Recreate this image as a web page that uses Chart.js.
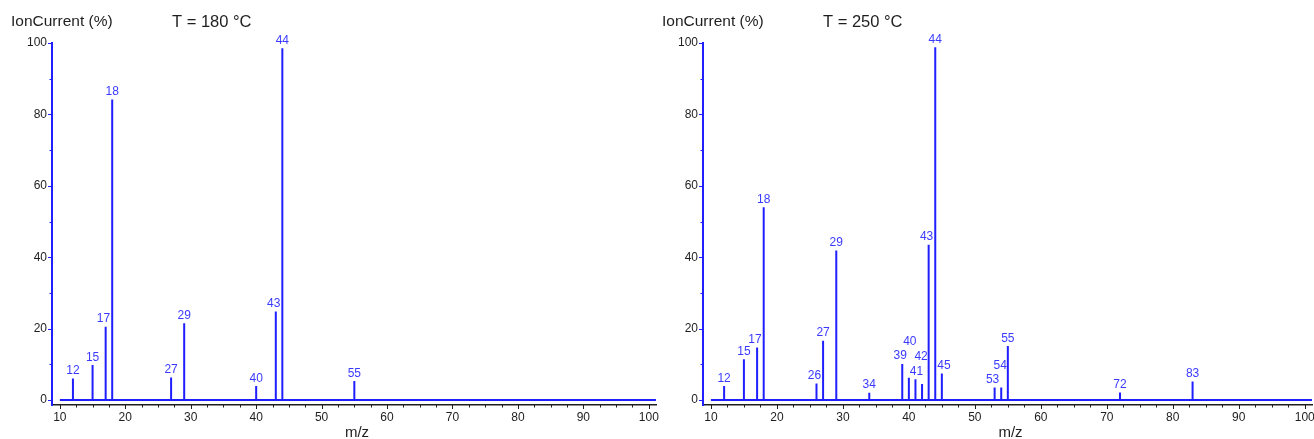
<!DOCTYPE html>
<html>
<head>
<meta charset="utf-8">
<script src="https://cdn.jsdelivr.net/npm/chart.js@4"></script>
<style>
  html, body { margin: 0; padding: 0; background: #fff; }
  #wrap { position: relative; width: 1314px; height: 439px; overflow: hidden; }
  .panel { position: absolute; top: 0; height: 439px; }
</style>
</head>
<body>
<div id="wrap">
  <div class="panel" style="left:0;width:664px"><canvas id="c180"></canvas></div>
  <div class="panel" style="left:651px;width:663px"><canvas id="c250"></canvas></div>
</div>
<script>
// Mass spectra at two temperatures

const mz180 = [12, 15, 17, 18, 27, 29, 40, 43, 44, 55];
const int180 = [6.0, 9.8, 20.5, 84.2, 6.3, 21.5, 3.9, 24.8, 98.5, 5.3];

const mz250 = [12, 15, 17, 18, 26, 27, 29, 34, 39, 40, 41, 42, 43, 44, 45, 53, 54, 55, 72, 83];
const int250 = [3.9, 11.4, 14.7, 54.0, 4.6, 16.6, 41.9, 2.0, 10.1, 6.2, 5.8, 4.5, 43.5, 98.8, 7.4, 3.5, 3.5, 15.1, 2.1, 5.2];

const xTicks = [10, 20, 30, 40, 50, 60, 70, 80, 90, 100];
const yTicks = [0, 20, 40, 60, 80, 100];

const X_MIN = 8.8, X_MAX = 101.1, SPEC_START = 10;
const Y_MIN = -1.4, Y_MAX = 100;
const X_MINOR = 2.5, Y_MINOR = 10;

const BLUE = '#1f1fff';
const LABEL_BLUE = '#3a3aff';
const INK = '#1e1e1e';
const FONT = '"Liberation Sans", Arial, sans-serif';

// stick spectrum as one line: baseline, up to each peak and back down
function stickPoints(mz, inten) {
    let pts = [{ x: SPEC_START, y: 0 }];
    mz.forEach((m, i) => {
        pts.push({ x: m, y: 0 }, { x: m, y: inten[i] }, { x: m, y: 0 });
    });
    pts.push({ x: X_MAX, y: 0 });
    return pts;
}

// put peak labels above the sticks, nudge them off neighbouring sticks and stack when they collide
function drawPeakLabels(ctx, xs, tops, texts, vals) {
    const order = vals.map((v, i) => i).sort((a, b) => vals[b] - vals[a] || xs[a] - xs[b]);
    const placed = [];
    order.forEach(i => {
        const w = ctx.measureText(texts[i]).width;
        let cx = xs[i];
        let base = tops[i] - 4.5;
        const bottom = base + 3;
        let left = null, right = null;
        xs.forEach((nx, j) => {
            if (j === i) return;
            if (Math.abs(nx - cx) > w / 2 + 1) return;
            if (tops[j] > bottom + 20) return;
            if (nx >= cx) { if (right === null || tops[j] < tops[right]) right = j; }
            else { if (left === null || tops[j] < tops[left]) left = j; }
        });
        if (right !== null && left === null) cx = Math.min(cx, xs[right] - 2 - w / 2);
        else if (left !== null && right === null) cx = Math.max(cx, xs[left] + 2 + w / 2);
        else if (left !== null && right !== null) cx += tops[left] < tops[right] ? 1 : -1;

        // ink box is a bit narrower than the advance width
        const hw = w / 2 - 1.6;
        let moved = true;
        while (moved) {
            moved = false;
            placed.forEach(p => {
                if (cx - hw < p.x1 && cx + hw > p.x0 && base - 11.5 < p.y1 && base + 3 > p.y0) {
                    base = p.y0 - 3;
                    moved = true;
                }
            });
        }
        placed.push({ x0: cx - hw, x1: cx + hw, y0: base - 11.5, y1: base + 3 });
        ctx.fillText(texts[i], cx, base);
    });
}

const decorPlugin = {
    id: 'decor',
    afterDraw(chart) {
        const ctx = chart.ctx;
        const area = chart.chartArea;
        const xs = chart.scales.x, ys = chart.scales.y;
        const opts = chart.options.plugins.decor;
        ctx.save();

        // x axis tick marks
        ctx.strokeStyle = INK;
        ctx.lineWidth = 1;
        for (let v = xTicks[0]; v <= xTicks[xTicks.length - 1] + 0.01; v += X_MINOR) {
            const px = Math.round(xs.getPixelForValue(v)) + 0.5;
            const len = (v % 10 === 0) ? 4 : 2.5;
            ctx.beginPath();
            ctx.moveTo(px, area.bottom);
            ctx.lineTo(px, area.bottom + len);
            ctx.stroke();
        }
        // y axis tick marks
        ctx.strokeStyle = BLUE;
        for (let v = yTicks[0]; v <= yTicks[yTicks.length - 1] + 0.01; v += Y_MINOR) {
            const py = Math.round(ys.getPixelForValue(v)) + 0.5;
            const len = (v % 20 === 0) ? 4 : 2.5;
            ctx.beginPath();
            ctx.moveTo(area.left, py);
            ctx.lineTo(area.left - len, py);
            ctx.stroke();
        }

        // titles
        ctx.fillStyle = INK;
        ctx.textBaseline = 'middle';
        ctx.textAlign = 'left';
        ctx.font = '15.5px ' + FONT;
        ctx.fillText('IonCurrent (%)', area.left - 41, area.top - 21);
        ctx.font = '16.5px ' + FONT;
        ctx.fillText(opts.temp, area.left + 120, area.top - 21);
        ctx.textAlign = 'center';
        ctx.font = '15px ' + FONT;
        ctx.fillText('m/z', (area.left + area.right) / 2 + 3, area.bottom + 28);

        // peak labels
        ctx.fillStyle = LABEL_BLUE;
        ctx.font = '12px ' + FONT;
        ctx.textAlign = 'center';
        ctx.textBaseline = 'alphabetic';
        const px = opts.mz.map(m => xs.getPixelForValue(m));
        const tops = opts.inten.map(v => ys.getPixelForValue(v));
        drawPeakLabels(ctx, px, tops, opts.mz.map(String), opts.inten);

        ctx.restore();
    }
};

function makeChart(id, mz, inten, temp, axisLeft, padRight) {
    const ctx = document.getElementById(id).getContext('2d');
    return new Chart(ctx, {
        type: 'line',
        data: {
            datasets: [{
                data: stickPoints(mz, inten),
                borderColor: BLUE,
                borderWidth: 2,
                pointRadius: 0,
                tension: 0,
                fill: false,
            }]
        },
        options: {
            responsive: true,
            maintainAspectRatio: false,
            animation: false,
            events: [],
            layout: { padding: { left: 0, top: 43, right: padRight, bottom: 0 } },
            plugins: {
                legend: { display: false },
                tooltip: { enabled: false },
                decor: { mz: mz, inten: inten, temp: temp }
            },
            scales: {
                x: {
                    type: 'linear',
                    min: X_MIN,
                    max: X_MAX,
                    afterBuildTicks: s => { s.ticks = xTicks.map(v => ({ value: v })); },
                    afterFit: s => { s.height = 34; s.paddingLeft = 0; s.paddingRight = 0; },
                    grid: { display: false, drawTicks: false },
                    border: { display: true, color: INK, width: 1.5 },
                    ticks: { color: INK, font: { family: FONT, size: 12 }, padding: 5, maxRotation: 0, autoSkip: false }
                },
                y: {
                    type: 'linear',
                    min: Y_MIN,
                    max: Y_MAX,
                    afterBuildTicks: s => { s.ticks = yTicks.map(v => ({ value: v })); },
                    afterFit: s => { s.width = axisLeft; s.paddingTop = 0; s.paddingBottom = 0; },
                    grid: { display: false, drawTicks: false },
                    border: { display: true, color: BLUE, width: 2 },
                    ticks: { color: INK, font: { family: FONT, size: 12 }, padding: 5 }
                }
            }
        },
        plugins: [decorPlugin]
    });
}

makeChart('c180', mz180, int180, 'T = 180 °C', 52, 8);
makeChart('c250', mz250, int250, 'T = 250 °C', 52, 2);
</script>
</body>
</html>
